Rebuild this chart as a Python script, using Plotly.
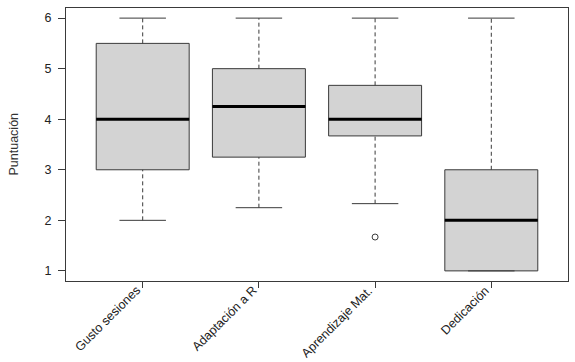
import plotly.graph_objects as go

categories = ["Gusto sesiones", "Adaptación a R", "Aprendizaje Mat.", "Dedicación"]
lower_whisker = [2.0, 2.25, 2.33, 1.0]
q1 = [3.0, 3.25, 3.67, 1.0]
median = [4.0, 4.25, 4.0, 2.0]
q3 = [5.5, 5.0, 4.67, 3.0]
upper_whisker = [6.0, 6.0, 6.0, 6.0]
outlier_cat = [3]
outlier_val = [1.67]
y_ticks = [1, 2, 3, 4, 5, 6]
y_title = "Puntuación"

pos = list(range(1, len(categories) + 1))
box_w = 0.8
cap_half = 0.2
line_col = "#3a3a3a"
font_fam = "Liberation Sans, Arial, sans-serif"

fig = go.Figure()

# whiskers (dashed) and caps
for i, p in enumerate(pos):
    fig.add_trace(go.Scatter(x=[p, p], y=[q3[i], upper_whisker[i]], mode="lines",
                             line=dict(color=line_col, width=1, dash="4px,3px"),
                             showlegend=False, hoverinfo="skip"))
    fig.add_trace(go.Scatter(x=[p, p], y=[lower_whisker[i], q1[i]], mode="lines",
                             line=dict(color=line_col, width=1, dash="4px,3px"),
                             showlegend=False, hoverinfo="skip"))
    fig.add_trace(go.Scatter(x=[p - cap_half, p + cap_half], y=[upper_whisker[i]] * 2, mode="lines",
                             line=dict(color=line_col, width=1), showlegend=False, hoverinfo="skip"))
    fig.add_trace(go.Scatter(x=[p - cap_half, p + cap_half], y=[lower_whisker[i]] * 2, mode="lines",
                             line=dict(color=line_col, width=1), showlegend=False, hoverinfo="skip"))

# boxes
fig.add_trace(go.Box(
    x=pos, q1=q1, median=median, q3=q3, lowerfence=q1, upperfence=q3,
    width=box_w, fillcolor="#d3d3d3", line=dict(color=line_col, width=1),
    whiskerwidth=0, boxpoints=False, showlegend=False,
))

# thick medians
for i, p in enumerate(pos):
    fig.add_trace(go.Scatter(x=[p - box_w / 2, p + box_w / 2], y=[median[i]] * 2, mode="lines",
                             line=dict(color="black", width=3), showlegend=False, hoverinfo="skip"))

# outliers
fig.add_trace(go.Scatter(x=outlier_cat, y=outlier_val, mode="markers",
                         marker=dict(symbol="circle-open", size=6, color=line_col, line=dict(width=1)),
                         showlegend=False))

# rotated category labels
for p, c in zip(pos, categories):
    fig.add_annotation(x=p, xref="x", y=0, yref="paper", text=c, textangle=-45,
                       showarrow=False, xanchor="right", yanchor="top", xshift=3, yshift=0,
                       font=dict(family=font_fam, size=12.5, color="#222222"))

fig.add_annotation(x=0, xref="paper", y=0.5, yref="paper", text=y_title, textangle=-90,
                   showarrow=False, xanchor="center", yanchor="middle", xshift=-53,
                   font=dict(family=font_fam, size=12.5, color="#333333"))

fig.update_layout(
    width=575, height=362,
    margin=dict(l=66, r=7, t=8, b=81, autoexpand=False),
    paper_bgcolor="white", plot_bgcolor="white",
    font=dict(family=font_fam, size=12, color="#333333"),
    xaxis=dict(range=[0.34, 4.66], tickmode="array", tickvals=pos, ticktext=[""] * len(pos),
               showgrid=False, zeroline=False, showline=True, mirror=True, automargin=False,
               linecolor=line_col, linewidth=1, ticks="outside", ticklen=6, tickcolor=line_col),
    yaxis=dict(range=[0.8, 6.2], tickmode="array", tickvals=y_ticks,
               showgrid=False, zeroline=False, showline=True, mirror=True, automargin=False,
               linecolor=line_col, linewidth=1, ticks="outside", ticklen=7, tickcolor=line_col,
               ticklabelstandoff=4,
               tickfont=dict(size=12.5, color="#222222")),
)

fig.write_html("out.html", config={"displayModeBar": False},
               post_script="document.body.style.margin='0';document.body.style.overflow='hidden';")
